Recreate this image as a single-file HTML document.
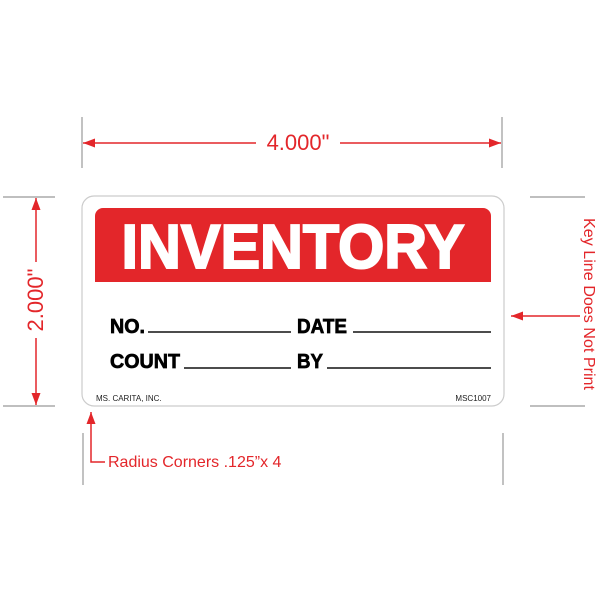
<!DOCTYPE html>
<html><head><meta charset="utf-8"><style>
body{margin:0;background:#fff;}
svg{display:block;}
</style></head><body>
<svg width="600" height="600" xmlns="http://www.w3.org/2000/svg">
<defs>
<marker id="a" viewBox="0 0 12 10" refX="12" refY="5" markerWidth="12" markerHeight="10" orient="auto-start-reverse" markerUnits="userSpaceOnUse"><path d="M0,0.5 L12,5 L0,9.5 z" fill="#e3262a"/></marker>
</defs>
<g stroke="#999" stroke-width="1.2" fill="none">
<line x1="82" y1="117" x2="82" y2="168"/>
<line x1="502" y1="117" x2="502" y2="168"/>
<line x1="3" y1="197" x2="55" y2="197"/>
<line x1="3" y1="406" x2="55" y2="406"/>
<line x1="530" y1="197" x2="585" y2="197"/>
<line x1="530" y1="406" x2="585" y2="406"/>
<line x1="83" y1="433" x2="83" y2="485"/>
<line x1="503" y1="433" x2="503" y2="485"/>
</g>
<g stroke="#e3262a" stroke-width="1.5" fill="none">
<line x1="83" y1="143" x2="256" y2="143" marker-start="url(#a)"/>
<line x1="340" y1="143" x2="501" y2="143" marker-end="url(#a)"/>
<line x1="36" y1="198" x2="36" y2="262" marker-start="url(#a)"/>
<line x1="36" y1="338" x2="36" y2="405" marker-end="url(#a)"/>
<line x1="580" y1="316" x2="511" y2="316" marker-end="url(#a)"/>
<polyline points="105,462 91,462 91,412" marker-end="url(#a)"/>
</g>
<text x="298" y="150" text-anchor="middle" font-family="Liberation Sans, sans-serif" font-size="22" fill="#e3262a">4.000"</text>
<text transform="translate(43,300) rotate(-90)" text-anchor="middle" font-family="Liberation Sans, sans-serif" font-size="22" fill="#e3262a">2.000"</text>
<text transform="translate(584,304) rotate(90)" text-anchor="middle" font-family="Liberation Sans, sans-serif" font-size="16" fill="#e3262a" textLength="172" lengthAdjust="spacingAndGlyphs">Key Line Does Not Print</text>
<text x="108" y="467" font-family="Liberation Sans, sans-serif" font-size="16" fill="#e3262a">Radius Corners .125”x 4</text>
<rect x="82" y="196" width="422" height="210" rx="12" fill="#fff" stroke="#ccc" stroke-width="1.2"/>
<path d="M95,282 V216 a8,8 0 0 1 8,-8 H483 a8,8 0 0 1 8,8 V282 z" fill="#e3262a"/>
<text x="293" y="268" text-anchor="middle" font-family="Liberation Sans, sans-serif" font-weight="bold" font-size="62" fill="#fff" stroke="#fff" stroke-width="2" textLength="343" lengthAdjust="spacingAndGlyphs">INVENTORY</text>
<g font-family="Liberation Sans, sans-serif" font-weight="bold" font-size="20" fill="#000" stroke="#000" stroke-width="0.7">
<text x="110" y="333" textLength="35" lengthAdjust="spacingAndGlyphs">NO.</text>
<text x="297" y="333" textLength="50" lengthAdjust="spacingAndGlyphs">DATE</text>
<text x="110" y="368" textLength="70" lengthAdjust="spacingAndGlyphs">COUNT</text>
<text x="297" y="368" textLength="26" lengthAdjust="spacingAndGlyphs">BY</text>
</g>
<g stroke="#111" stroke-width="1.6">
<line x1="148" y1="332" x2="291" y2="332"/>
<line x1="353" y1="332" x2="491" y2="332"/>
<line x1="184" y1="368" x2="291" y2="368"/>
<line x1="327" y1="368" x2="491" y2="368"/>
</g>
<text x="96" y="401" font-family="Liberation Sans, sans-serif" font-size="8" fill="#222">MS. CARITA, INC.</text>
<text x="491" y="401" text-anchor="end" font-family="Liberation Sans, sans-serif" font-size="8" fill="#222">MSC1007</text>
</svg>
</body></html>
